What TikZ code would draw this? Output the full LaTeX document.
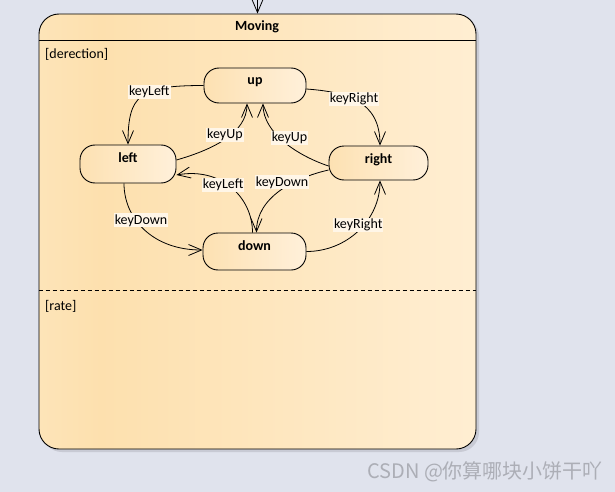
\documentclass[tikz,border=0pt]{standalone}
\usepackage{fontspec}
\setmainfont{Carlito}
\newfontfamily\cjk{Noto Sans CJK SC}
\usetikzlibrary{arrows.meta}
\definecolor{bg}{RGB}{224,227,237}
\definecolor{shadowc}{RGB}{200,202,212}
\definecolor{mvA}{RGB}{253,228,184}
\definecolor{mvB}{RGB}{253,224,174}
\definecolor{mvC}{RGB}{255,238,210}
\definecolor{stA}{RGB}{253,225,178}
\definecolor{stC}{RGB}{255,240,218}
\definecolor{lblbg}{RGB}{255,246,232}
\definecolor{wmark}{RGB}{172,174,182}
\pgfdeclarehorizontalshading{movshade}{100bp}{color(0bp)=(mvA); color(25bp)=(mvA); color(32bp)=(mvB); color(75bp)=(mvC); color(100bp)=(mvC)}
\pgfdeclarehorizontalshading{stshade}{100bp}{color(0bp)=(stA); color(25bp)=(stA); color(75bp)=(stC); color(100bp)=(stC)}
\begin{document}
\begin{tikzpicture}[x=1pt,y=1pt,
  every node/.style={font=\fontsize{14}{16}\selectfont},
  outer/.style={draw, line width=0.9pt, rounded corners=20pt, shading=movshade, minimum width=437pt, minimum height=435pt, inner sep=0pt},
  state/.style={draw, line width=0.9pt, rounded corners=15pt, shading=stshade, inner xsep=0pt, inner ysep=0pt, text height=17pt, font=\fontsize{14}{16}\selectfont\bfseries},
  trans/.style={draw, line width=0.8pt, -{Straight Barb[length=13pt,width=11pt,line width=0.8pt]}},
  lbl/.style={fill=lblbg, inner sep=1pt}
]
\clip (0,0) rectangle (615,-492);
\fill[bg] (0,0) rectangle (615,-492);
\fill[shadowc, rounded corners=20pt] (42,-17) rectangle (479,-452);
\node[outer] (moving) at (257.5,-231.5) {};
\draw[line width=0.9pt] ([yshift=-27pt]moving.north west) -- ([yshift=-27pt]moving.north east);
\draw[line width=0.9pt, dash pattern=on 4pt off 3pt] ([yshift=-277pt]moving.north west) -- ([yshift=-277pt]moving.north east);
\node[font=\fontsize{14}{16}\selectfont\bfseries] (title) at (257,-27) {Moving};
\node[anchor=west, inner sep=0pt] (reg1) at (45,-54) {[derection]};
\node[anchor=west, inner sep=0pt] (reg2) at (45,-306) {[rate]};
\coordinate (entry) at (257.5,10);
\draw[trans] (entry) -- (moving.north);

\node[state, minimum width=102pt, text depth=18pt] (up) at (255,-85.5) {up};
\node[state, minimum width=96pt, text depth=21pt] (left) at (128,-164) {left};
\node[state, minimum width=99pt, text depth=17pt] (right) at (378.5,-163) {right};
\node[state, minimum width=103pt, text depth=20pt] (down) at (254.5,-251.5) {down};

\draw[trans] (up.west) .. controls +(-64,0) and +(0,50) .. node[lbl,pos=0.4]{keyLeft} (left.north);
\draw[trans] ([yshift=4pt]left.east) .. controls +(35,10) and +(0,-30) .. node[lbl,pos=0.5,yshift=4pt]{keyUp} ([xshift=-8pt]up.south);
\draw[trans] ([yshift=-3pt]right.west) .. controls +(-30,10) and +(0,-30) .. node[lbl,pos=0.5,xshift=5pt,yshift=4pt]{keyUp} ([xshift=8pt]up.south);
\draw[trans] ([yshift=-3.5pt]up.east) .. controls +(40,-3) and +(0,45) .. node[lbl,pos=0.45]{keyRight} ([xshift=1.5pt]right.north);
\draw[trans] ([yshift=-7pt]right.west) .. controls +(-35,-8) and +(0,35) .. node[lbl,pos=0.4,xshift=-6pt,yshift=3pt]{keyDown} ([xshift=2pt]down.north);
\draw[trans] ([xshift=-2pt]down.north) .. controls +(0,35) and +(45,8) .. node[lbl,pos=0.55,xshift=-4pt]{keyLeft} ([yshift=-11pt]left.east);
\draw[trans] ([xshift=-4pt]left.south) .. controls +(0,-35) and +(-50,0) .. node[lbl,pos=0.38,xshift=5pt]{keyDown} ([yshift=1.5pt]down.west);
\draw[trans] (down.east) .. controls +(40,0) and +(0,-40) .. node[lbl,pos=0.5,yshift=6pt]{keyRight} ([xshift=1.5pt]right.south);

\node[anchor=west, inner sep=0pt, text=wmark, font=\fontsize{20}{22}\selectfont\cjk] (wm) at (367,-472) {CSDN @你算哪块小饼干吖};
\end{tikzpicture}
\end{document}
